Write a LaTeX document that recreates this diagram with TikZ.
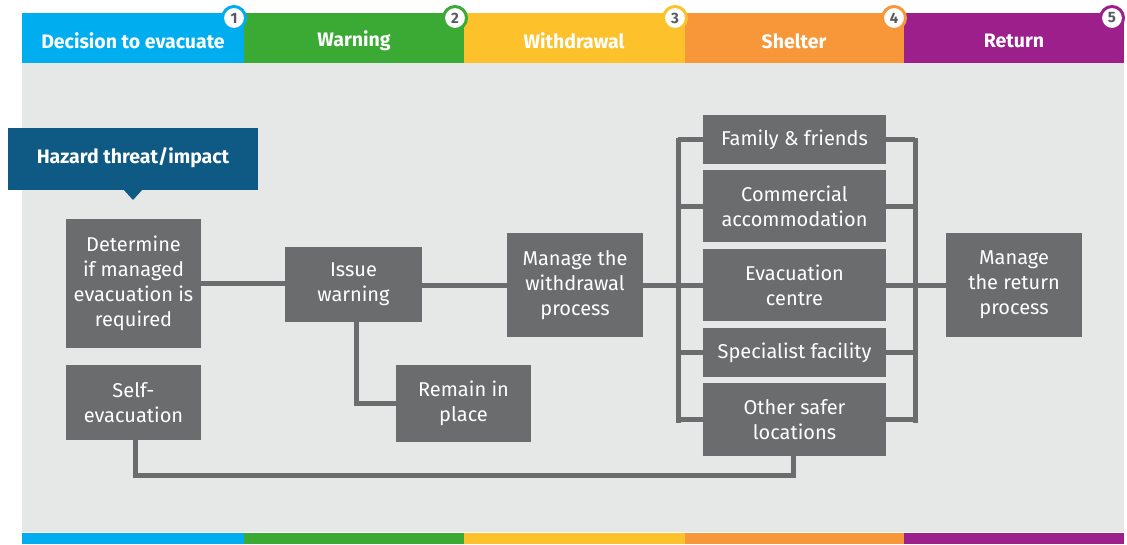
\documentclass[tikz,border=0pt]{standalone}
\usepackage{fontspec}
\setmainfont{Fira Sans}
\usetikzlibrary{calc}
\definecolor{cblue}{HTML}{00AEEF}
\definecolor{cgreen}{HTML}{3AAA35}
\definecolor{cyellow}{HTML}{FDC12B}
\definecolor{corange}{HTML}{F7973A}
\definecolor{cpurple}{HTML}{9C1F8C}
\definecolor{bggray}{HTML}{E6E7E7}
\definecolor{boxgray}{HTML}{6B6C6E}
\definecolor{hazblue}{HTML}{0E5A84}
\definecolor{numgray}{HTML}{555A60}
\tikzset{
  gbox/.style={fill=boxgray, text=white, inner sep=0pt, align=center,
    font=\fontsize{20}{25}\selectfont},
  conn/.style={draw=boxgray, line width=5pt},
  hdr/.style={inner sep=0pt, text=white, font=\bfseries\fontsize{19.5}{22}\selectfont},
  numc/.style={circle, fill=white, line width=3pt, minimum size=23pt, inner sep=0pt,
    text=numgray, font=\bfseries\fontsize{15}{15}\selectfont}
}
\begin{document}
\begin{tikzpicture}[x=1pt,y=-1pt]
\useasboundingbox (0,0) rectangle (1127,544);
\fill[white] (0,0) rectangle (1127,544);
% background panel
\fill[bggray] (22,63) rectangle (1124,532);
% header segments
\fill[cblue] (22,13) rectangle (244,63);
\fill[cgreen] (244,13) rectangle (464,63);
\fill[cyellow] (464,13) rectangle (685,63);
\fill[corange] (685,13) rectangle (904,63);
\fill[cpurple] (904,13) rectangle (1124,63);
% bottom strip
\fill[cblue] (22,533) rectangle (244,544);
\fill[cgreen] (244,533) rectangle (464,544);
\fill[cyellow] (464,533) rectangle (685,544);
\fill[corange] (685,533) rectangle (904,544);
\fill[cpurple] (904,533) rectangle (1124,544);
% header labels
\node[hdr] (h1) at (133,41) {Decision to evacuate};
\node[hdr] (h2) at (354,41) {Warning};
\node[hdr] (h3) at (574,41) {Withdrawal};
\node[hdr] (h4) at (794,41) {Shelter};
\node[hdr] (h5) at (1014,41) {Return};
% number circles
\node[numc, draw=cblue] (n1) at (234,18) {1};
\node[numc, draw=cgreen] (n2) at (455,18) {2};
\node[numc, draw=cyellow] (n3) at (675,18) {3};
\node[numc, draw=corange] (n4) at (894,18) {4};
\node[numc, draw=cpurple] (n5) at (1112,18) {5};
% hazard box
\fill[hazblue] (8,128) rectangle (258,190);
\fill[hazblue] (123,189) -- (143,189) -- (133,200) -- cycle;
\node[hdr] (haz) at (133,158) {Hazard threat/impact};
% grey boxes
\node[gbox, minimum width=135pt, minimum height=129pt] (det) at (133.5,283.5) {Determine\\if managed\\evacuation is\\required};
\node[gbox, minimum width=137pt, minimum height=75pt] (issue) at (353.5,284.5) {Issue\\warning};
\node[gbox, minimum width=136pt, minimum height=104pt] (wd) at (575,285) {Manage the\\withdrawal\\process};
\node[gbox, minimum width=135pt, minimum height=77pt] (remain) at (463.5,403.5) {Remain in\\place};
\node[gbox, minimum width=135pt, minimum height=75pt] (self) at (133.5,402.5) {Self-\\evacuation};
\node[gbox, minimum width=183pt, minimum height=49pt] (fam) at (794.5,139.5) {Family \& friends};
\node[gbox, minimum width=183pt, minimum height=72pt] (comm) at (794.5,206) {Commercial\\accommodation};
\node[gbox, minimum width=183pt, minimum height=72pt] (evac) at (794.5,285) {Evacuation\\centre};
\node[gbox, minimum width=183pt, minimum height=49pt] (spec) at (794.5,352.5) {Specialist facility};
\node[gbox, minimum width=183pt, minimum height=73pt] (other) at (794.5,419.5) {Other safer\\locations};
\node[gbox, minimum width=136pt, minimum height=104pt] (ret) at (1014,285) {Manage\\the return\\process};
% bus coordinates
\coordinate (lbt) at (678,140);
\coordinate (lbb) at (678,420);
\coordinate (rbt) at (915,140);
\coordinate (rbb) at (915,420);
\coordinate (bl) at (135,475);
\coordinate (br) at (793,475);
% connectors
\draw[conn] (det.east |- 0,283) -- (issue.west |- 0,283);
\draw[conn] (issue.east |- 0,285) -- (wd.west |- 0,285);
\draw[conn] (issue.south -| 356,0) -- (356,403) -- (remain.west |- 0,403);
\draw[conn] (wd.east |- 0,285) -- (lbt |- 0,285);
\draw[conn, line cap=rect] (lbt) -- (lbb);
\draw[conn, line cap=rect] (rbt) -- (rbb);
\foreach \n in {fam,comm,evac,spec,other}{
  \draw[conn] (lbt |- \n.west) -- (\n.west);
  \draw[conn] (\n.east) -- (rbt |- \n.east);
}
\draw[conn] (rbt |- 0,285) -- (ret.west |- 0,285);
\draw[conn, line join=miter] (self.south -| bl) -- (bl) -- (br) -- (other.south -| br);
\end{tikzpicture}
\end{document}
